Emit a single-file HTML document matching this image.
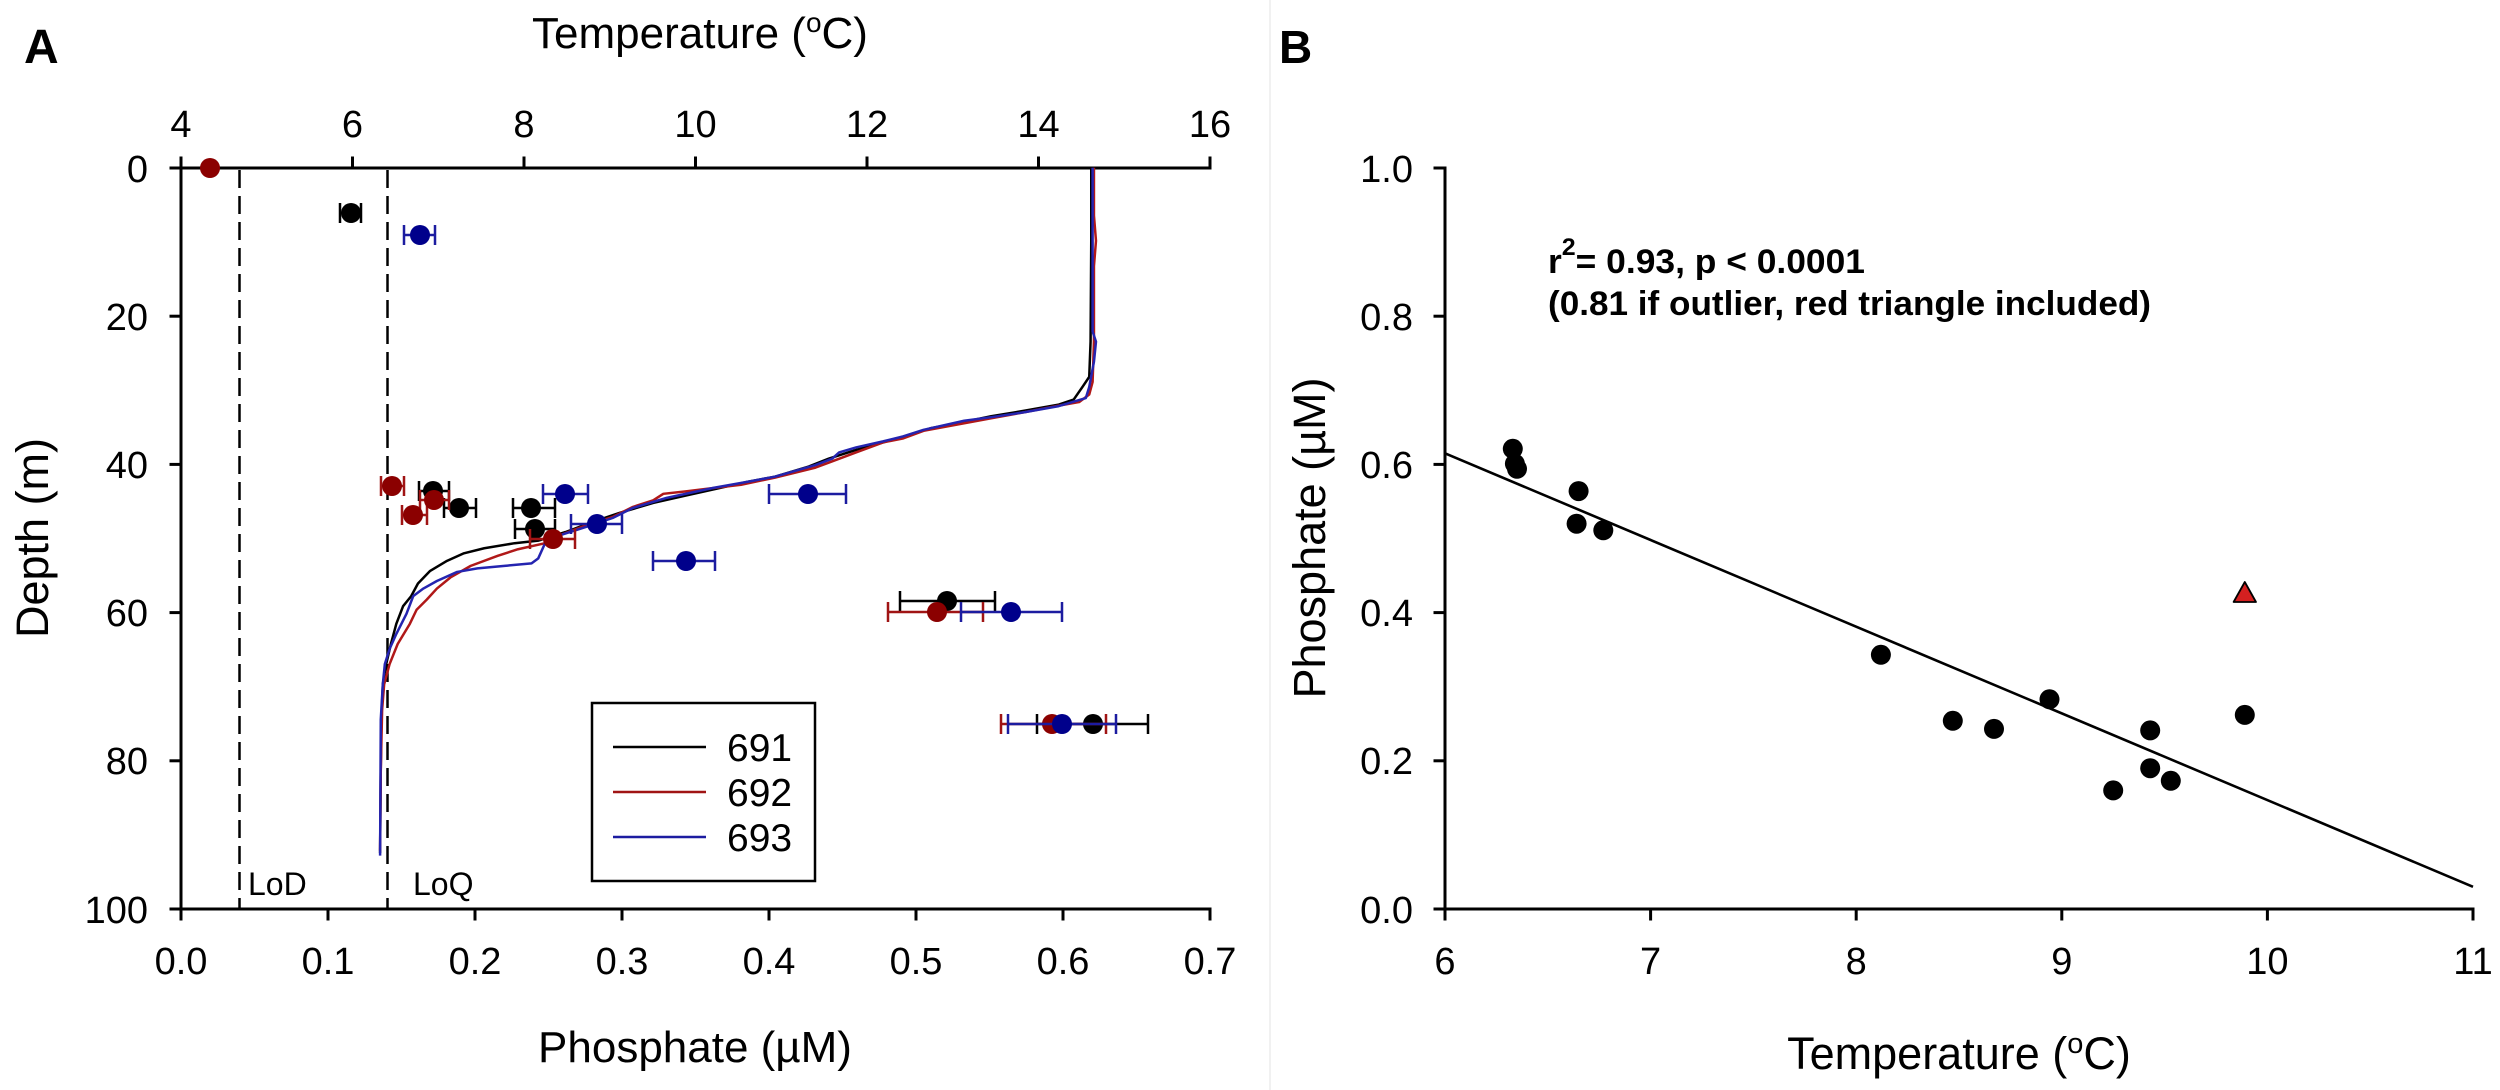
<!DOCTYPE html>
<html>
<head>
<meta charset="utf-8">
<style>
  html, body { margin:0; padding:0; background:#fff; }
  body { width:2500px; height:1090px; overflow:hidden; }
  svg { display:block; }
  text { font-family:"Liberation Sans", Arial, Helvetica, sans-serif; fill:#000; }
</style>
</head>
<body>
<svg width="2500" height="1090" viewBox="0 0 2500 1090" xmlns="http://www.w3.org/2000/svg">
  <rect x="0" y="0" width="2500" height="1090" fill="#fff"/>
  <!-- faint panel divider -->
  <line x1="1270" y1="0" x2="1270" y2="1090" stroke="#f1f1f1" stroke-width="2"/>

  <!-- ================= PANEL A ================= -->
  <text x="24" y="63" font-size="48" font-weight="bold">A</text>

  <!-- top title -->
  <text x="700" y="48" font-size="44" text-anchor="middle">Temperature (<tspan font-size="28" dy="-16">o</tspan><tspan dy="16">C)</tspan></text>

  <!-- axes -->
  <g stroke="#000" stroke-width="3" fill="none" stroke-linecap="square">
    <line x1="171" y1="168" x2="1210" y2="168"/>
    <line x1="181" y1="158" x2="181" y2="919"/>
    <line x1="171" y1="909" x2="1210" y2="909"/>
    <!-- top ticks -->
    <line x1="352.5" y1="158" x2="352.5" y2="168"/>
    <line x1="524" y1="158" x2="524" y2="168"/>
    <line x1="695.5" y1="158" x2="695.5" y2="168"/>
    <line x1="867" y1="158" x2="867" y2="168"/>
    <line x1="1038.5" y1="158" x2="1038.5" y2="168"/>
    <line x1="1210" y1="158" x2="1210" y2="168"/>
    <!-- bottom ticks -->
    <line x1="328" y1="909" x2="328" y2="919"/>
    <line x1="475" y1="909" x2="475" y2="919"/>
    <line x1="622" y1="909" x2="622" y2="919"/>
    <line x1="769" y1="909" x2="769" y2="919"/>
    <line x1="916" y1="909" x2="916" y2="919"/>
    <line x1="1063" y1="909" x2="1063" y2="919"/>
    <line x1="1210" y1="909" x2="1210" y2="919"/>
    <!-- left ticks -->
    <line x1="171" y1="316.2" x2="181" y2="316.2"/>
    <line x1="171" y1="464.4" x2="181" y2="464.4"/>
    <line x1="171" y1="612.6" x2="181" y2="612.6"/>
    <line x1="171" y1="760.8" x2="181" y2="760.8"/>
  </g>

  <!-- top tick labels -->
  <g font-size="38" text-anchor="middle">
    <text x="181" y="137">4</text>
    <text x="352.5" y="137">6</text>
    <text x="524" y="137">8</text>
    <text x="695.5" y="137">10</text>
    <text x="867" y="137">12</text>
    <text x="1038.5" y="137">14</text>
    <text x="1210" y="137">16</text>
  </g>
  <!-- bottom tick labels -->
  <g font-size="38" text-anchor="middle">
    <text x="181" y="974">0.0</text>
    <text x="328" y="974">0.1</text>
    <text x="475" y="974">0.2</text>
    <text x="622" y="974">0.3</text>
    <text x="769" y="974">0.4</text>
    <text x="916" y="974">0.5</text>
    <text x="1063" y="974">0.6</text>
    <text x="1210" y="974">0.7</text>
  </g>
  <!-- left tick labels -->
  <g font-size="38" text-anchor="end">
    <text x="148" y="182">0</text>
    <text x="148" y="330">20</text>
    <text x="148" y="478">40</text>
    <text x="148" y="626">60</text>
    <text x="148" y="774">80</text>
    <text x="148" y="923">100</text>
  </g>

  <!-- axis titles -->
  <text transform="translate(48,538) rotate(-90)" font-size="45" text-anchor="middle">Depth (m)</text>
  <text x="695" y="1062" font-size="44" text-anchor="middle">Phosphate (µM)</text>

  <!-- LoD / LoQ dashed lines -->
  <g stroke="#000" stroke-width="2.5" stroke-dasharray="18 8" fill="none">
    <line x1="239.5" y1="170" x2="239.5" y2="909"/>
    <line x1="387.5" y1="170" x2="387.5" y2="909"/>
  </g>
  <text x="248" y="895" font-size="32">LoD</text>
  <text x="413" y="895" font-size="32">LoQ</text>

  <!-- temperature profiles -->
  <g transform="translate(180 140) scale(0.676 0.504)" fill="none" stroke-linejoin="round">
    <polyline vector-effect="non-scaling-stroke" stroke="#000" stroke-width="2.5"
      points="1348,55 1348,200 1347,400 1345,470 1335,490 1322,515 1300,525 1250,537 1200,548 1150,562 1110,572 1080,585 1040,600 1000,615 960,632 930,648 880,668 840,678 800,690 750,705 700,720 650,740 610,758 570,778 530,795 495,800 450,810 420,820 395,835 370,855 352,880 342,905 330,925 320,960 312,1000 305,1040 300,1080 298,1150 297,1250 296,1415"/>
    <polyline vector-effect="non-scaling-stroke" stroke="#b01818" stroke-width="2.5"
      points="1352,55 1352,150 1355,200 1352,250 1352,400 1350,480 1345,505 1330,520 1300,527 1250,540 1200,552 1160,562 1100,577 1070,592 1040,600 1000,620 960,640 940,650 880,670 830,684 780,692 750,697 715,702 700,715 670,728 640,748 600,765 560,785 540,800 500,812 470,825 430,845 400,868 380,890 365,912 350,932 340,960 322,1000 310,1040 302,1080 299,1130 297,1250 296,1410"/>
    <polyline vector-effect="non-scaling-stroke" stroke="#2424b0" stroke-width="2.5"
      points="1350,55 1350,380 1355,400 1352,440 1345,490 1340,512 1300,528 1250,540 1200,550 1160,557 1100,575 1070,588 1040,598 1000,610 975,620 965,632 940,645 880,668 840,678 790,690 720,710 670,730 640,750 600,768 560,785 540,800 530,830 520,840 480,845 440,850 410,857 380,875 360,890 345,905 335,940 320,980 310,1010 303,1040 300,1080 297,1150 296,1420"/>
  </g>

  <!-- black series (691) -->
  <g stroke="#000" stroke-width="2.5" fill="none">
    <path d="M340 213H361M340 203V223M361 203V223"/>
    <path d="M419 491H449M419 481V501M449 481V501"/>
    <path d="M444 508H476M444 498V518M476 498V518"/>
    <path d="M513 508H555M513 498V518M555 498V518"/>
    <path d="M515 529H555M515 519V539M555 519V539"/>
    <path d="M900 601H995M900 591V611M995 591V611"/>
    <path d="M1037 724H1148M1037 714V734M1148 714V734"/>
  </g>
  <g fill="#000">
    <circle cx="351" cy="213" r="10"/>
    <circle cx="433" cy="491" r="10"/>
    <circle cx="459" cy="508" r="10"/>
    <circle cx="531" cy="508" r="10"/>
    <circle cx="535" cy="529" r="10"/>
    <circle cx="947" cy="601" r="10"/>
    <circle cx="1093" cy="724" r="10"/>
  </g>

  <!-- red series (692) -->
  <g stroke="#a01414" stroke-width="2.5" fill="none">
    <path d="M381 486H404M381 476V496M404 476V496"/>
    <path d="M420 500H449M420 490V510M449 490V510"/>
    <path d="M402 515H427M402 505V525M427 505V525"/>
    <path d="M530 539H575M530 529V549M575 529V549"/>
    <path d="M888 612H983M888 602V622M983 602V622"/>
    <path d="M1001 724H1106M1001 714V734M1106 714V734"/>
  </g>
  <g fill="#8b0000">
    <circle cx="210" cy="168" r="10"/>
    <circle cx="392" cy="486" r="10"/>
    <circle cx="434" cy="500" r="10"/>
    <circle cx="413" cy="515" r="10"/>
    <circle cx="553" cy="539" r="10"/>
    <circle cx="937" cy="612" r="10"/>
    <circle cx="1052" cy="724" r="10"/>
  </g>

  <!-- blue series (693) -->
  <g stroke="#1c1ca0" stroke-width="2.5" fill="none">
    <path d="M404 235H435M404 225V245M435 225V245"/>
    <path d="M543 494H588M543 484V504M588 484V504"/>
    <path d="M571 524H622M571 514V534M622 514V534"/>
    <path d="M769 494H846M769 484V504M846 484V504"/>
    <path d="M653 561H715M653 551V571M715 551V571"/>
    <path d="M961 612H1062M961 602V622M1062 602V622"/>
    <path d="M1008 724H1116M1008 714V734M1116 714V734"/>
  </g>
  <g fill="#00008b">
    <circle cx="420" cy="235" r="10"/>
    <circle cx="565" cy="494" r="10"/>
    <circle cx="597" cy="524" r="10"/>
    <circle cx="808" cy="494" r="10"/>
    <circle cx="686" cy="561" r="10"/>
    <circle cx="1011" cy="612" r="10"/>
    <circle cx="1062" cy="724" r="10"/>
  </g>

  <!-- legend -->
  <rect x="592" y="703" width="223" height="178" fill="#fff" stroke="#000" stroke-width="2.5"/>
  <line x1="613" y1="747" x2="706" y2="747" stroke="#000" stroke-width="2.5"/>
  <line x1="613" y1="792" x2="706" y2="792" stroke="#a01414" stroke-width="2.5"/>
  <line x1="613" y1="837" x2="706" y2="837" stroke="#1c1ca0" stroke-width="2.5"/>
  <g font-size="39">
    <text x="727" y="761">691</text>
    <text x="727" y="806">692</text>
    <text x="727" y="851">693</text>
  </g>

  <!-- ================= PANEL B ================= -->
  <text x="1279" y="63" font-size="46" font-weight="bold">B</text>

  <g stroke="#000" stroke-width="3" fill="none" stroke-linecap="square">
    <line x1="1445" y1="168" x2="1445" y2="919"/>
    <line x1="1435" y1="909" x2="2473" y2="909"/>
    <!-- y ticks -->
    <line x1="1435" y1="168" x2="1445" y2="168"/>
    <line x1="1435" y1="316.2" x2="1445" y2="316.2"/>
    <line x1="1435" y1="464.4" x2="1445" y2="464.4"/>
    <line x1="1435" y1="612.6" x2="1445" y2="612.6"/>
    <line x1="1435" y1="760.8" x2="1445" y2="760.8"/>
    <!-- x ticks -->
    <line x1="1650.6" y1="909" x2="1650.6" y2="919"/>
    <line x1="1856.2" y1="909" x2="1856.2" y2="919"/>
    <line x1="2061.8" y1="909" x2="2061.8" y2="919"/>
    <line x1="2267.4" y1="909" x2="2267.4" y2="919"/>
    <line x1="2473" y1="909" x2="2473" y2="919"/>
  </g>

  <g font-size="38" text-anchor="end">
    <text x="1413" y="182">1.0</text>
    <text x="1413" y="330">0.8</text>
    <text x="1413" y="478">0.6</text>
    <text x="1413" y="626">0.4</text>
    <text x="1413" y="774">0.2</text>
    <text x="1413" y="923">0.0</text>
  </g>
  <g font-size="38" text-anchor="middle">
    <text x="1445" y="974">6</text>
    <text x="1650.6" y="974">7</text>
    <text x="1856.2" y="974">8</text>
    <text x="2061.8" y="974">9</text>
    <text x="2267.4" y="974">10</text>
    <text x="2473" y="974">11</text>
  </g>

  <text transform="translate(1325,538) rotate(-90)" font-size="45" text-anchor="middle">Phosphate (µM)</text>
  <text x="1959" y="1069" font-size="45" text-anchor="middle">Temperature (<tspan font-size="29" dy="-16">o</tspan><tspan dy="16">C)</tspan></text>

  <!-- annotation -->
  <text x="1548" y="273" font-size="34" font-weight="bold" textLength="317" lengthAdjust="spacingAndGlyphs">r<tspan font-size="24" dy="-18">2</tspan><tspan dy="18">= 0.93, p &lt; 0.0001</tspan></text>
  <text x="1548" y="315" font-size="34" font-weight="bold" textLength="603" lengthAdjust="spacingAndGlyphs">(0.81 if outlier, red triangle included)</text>

  <!-- regression line -->
  <line x1="1445" y1="453.3" x2="2473" y2="886.8" stroke="#000" stroke-width="2.6"/>

  <!-- points -->
  <g fill="#000">
    <circle cx="1512.8" cy="448.8" r="10"/>
    <circle cx="1514.9" cy="463.7" r="10"/>
    <circle cx="1517" cy="468.8" r="10"/>
    <circle cx="1578.6" cy="491.1" r="10"/>
    <circle cx="1576.6" cy="523.7" r="10"/>
    <circle cx="1603.3" cy="530.3" r="10"/>
    <circle cx="1880.9" cy="654.8" r="10"/>
    <circle cx="1952.8" cy="720.8" r="10"/>
    <circle cx="1994" cy="728.9" r="10"/>
    <circle cx="2049.5" cy="699.3" r="10"/>
    <circle cx="2113.2" cy="790.4" r="10"/>
    <circle cx="2150.2" cy="730.4" r="10"/>
    <circle cx="2150.2" cy="768.2" r="10"/>
    <circle cx="2170.8" cy="780.8" r="10"/>
    <circle cx="2244.8" cy="714.9" r="10"/>
  </g>
  <polygon points="2244.8,582 2256,602 2233.6,602" fill="#d42020" stroke="#000" stroke-width="1.8" stroke-linejoin="round"/>
</svg>
</body>
</html>
